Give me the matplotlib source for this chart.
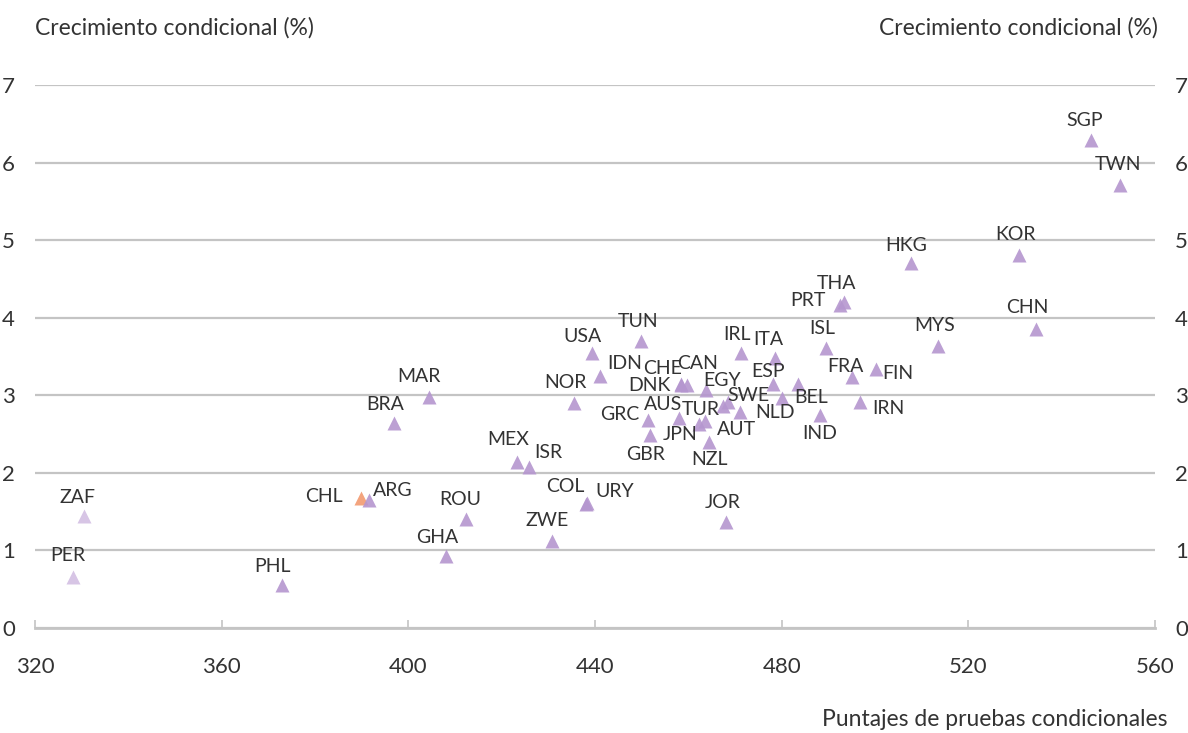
import matplotlib.pyplot as plt

plt.rcParams['font.family'] = ['Lato', 'DejaVu Sans']

# datos: pais, puntaje de pruebas condicionales, crecimiento condicional (%)
paises = ['ZAF', 'PER', 'PHL', 'CHL', 'ARG', 'BRA', 'MAR', 'GHA', 'ROU', 'MEX',
          'ISR', 'ZWE', 'NOR', 'COL', 'URY', 'USA', 'IDN', 'TUN', 'GRC', 'GBR',
          'AUS', 'DNK', 'CHE', 'CAN', 'EGY', 'JPN', 'TUR', 'NZL', 'AUT', 'SWE',
          'NLD', 'IRL', 'ITA', 'ESP', 'BEL', '', 'ISL', 'IND', 'FRA', 'FIN',
          'IRN', 'PRT', 'THA', 'HKG', 'MYS', 'KOR', 'CHN', 'SGP', 'TWN', 'JOR']
puntajes = [330.5, 328.1, 372.9, 389.9, 391.6, 396.9, 404.4, 408.1, 412.4, 423.3,
            425.9, 430.8, 435.5, 438.1, 438.3, 439.4, 441.1, 449.9, 451.4, 451.8,
            458.0, 458.4, 458.5, 459.7, 463.8, 462.3, 463.6, 464.4, 467.4, 468.5,
            471.1, 471.3, 478.6, 478.1, 480.1, 483.5, 489.5, 488.2, 495.1, 500.2,
            496.8, 492.5, 493.4, 507.7, 513.6, 530.9, 534.4, 546.2, 552.5, 468.1]
crecimiento = [1.44, 0.66, 0.55, 1.68, 1.65, 2.64, 2.98, 0.93, 1.40, 2.14,
               2.08, 1.12, 2.90, 1.60, 1.61, 3.55, 3.25, 3.70, 2.68, 2.49,
               2.71, 3.13, 3.14, 3.13, 3.07, 2.63, 2.67, 2.40, 2.86, 2.91,
               2.79, 3.55, 3.48, 3.15, 2.97, 3.15, 3.61, 2.74, 3.23, 3.34,
               2.91, 4.16, 4.20, 4.70, 3.64, 4.81, 3.86, 6.29, 5.71, 1.37]

# desplazamiento de cada etiqueta (pixeles, y hacia abajo)
etiqueta_dx = [-7, -5, -9, -37, 24, -9, -10, -9, -6, -9,
               19, -5, -9, -21, 28, -10, 25, -3, -28, -5,
               -16, -31, -19, 11, 16, -19, -4, 1, 14, 20,
               35, -4, -7, -5, 29, 0, -4, 0, -7, 22,
               28, -32, -8, -5, -4, -4, -8, -6, -2, -3]
etiqueta_dy = [-19, -21, -19, -1, -10, -19, -20, -18, -20, -22,
               -14, -21, -21, -17, -12, -16, -12, -19, -6, 20,
               -13, 0, -16, -22, -9, 11, -11, 18, 23, -7,
               1, -18, -19, -12, 0, 0, -19, 18, -11, 5,
               6, -5, -19, -18, -20, -20, -21, -20, -21, -19]

morado = '#b596cf'
morado_claro = '#d3bfe3'
naranja = '#f29a70'
gris = '#c4c4c4'
texto = '#333333'

fig = plt.figure(figsize=(11.88, 7.33), dpi=100)
ax = fig.add_axes([35 / 1188, 1 - 628 / 733, 1120 / 1188, 543 / 733])

for p, x, y in zip(paises, puntajes, crecimiento):
    if p == 'CHL':
        c = naranja
    elif p in ('ZAF', 'PER'):
        c = morado_claro
    else:
        c = morado
    ax.plot(x, y, marker='^', ms=10.5, color=c, alpha=0.9, mec='none', ls='none', zorder=3)

for p, x, y, dx, dy in zip(paises, puntajes, crecimiento, etiqueta_dx, etiqueta_dy):
    if p:
        ax.annotate(p, (x, y), xytext=(dx, -dy), textcoords='offset pixels',
                    ha='center', va='center', fontsize=14, color=texto, zorder=4)

ax.set_xlim(320, 560)
ax.set_ylim(0, 7)
ax.set_xticks(range(320, 561, 40))
ax.set_yticks(range(0, 8))

for s in ['top', 'left', 'right']:
    ax.spines[s].set_visible(False)
ax.spines['bottom'].set_color(gris)
ax.spines['bottom'].set_linewidth(2)

ax.yaxis.grid(True, color=gris, linewidth=1.6)
ax.set_axisbelow(True)

ax.tick_params(axis='x', direction='in', length=6, width=1.2, color=gris,
               labelsize=16, labelcolor=texto, pad=21)
ax.tick_params(axis='y', left=False, right=False, labelleft=True, labelright=True,
               labelsize=16, labelcolor=texto, pad=11)

fig.text(35 / 1188, 1 - 28 / 733, 'Crecimiento condicional (%)', ha='left', va='center',
         fontsize=16.5, color=texto)
fig.text(1158 / 1188, 1 - 28 / 733, 'Crecimiento condicional (%)', ha='right', va='center',
         fontsize=16.5, color=texto)
fig.text(1167 / 1188, 1 - 720 / 733, 'Puntajes de pruebas condicionales', ha='right',
         va='center', fontsize=16.5, color=texto)

fig.savefig('out.png', dpi=100)
